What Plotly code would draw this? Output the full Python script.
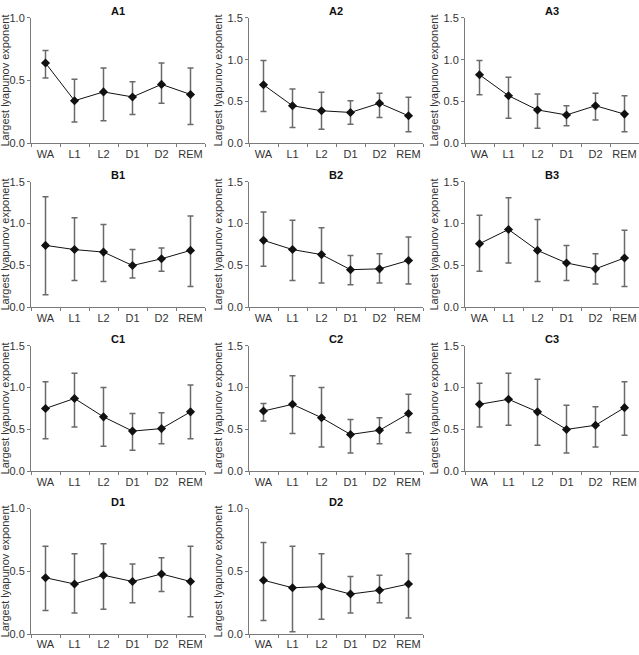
import plotly.graph_objects as go

stages = ["WA", "L1", "L2", "D1", "D2", "REM"]
panels = ["A1", "A2", "A3", "B1", "B2", "B3", "C1", "C2", "C3", "D1", "D2"]
y_max = [1.0, 1.5, 1.5, 1.5, 1.5, 1.5, 1.5, 1.5, 1.5, 1.0, 1.0]
y_ticks_1 = [0.0, 0.5, 1.0]
y_ticks_15 = [0.0, 0.5, 1.0, 1.5]

mean_A1 = [0.64, 0.34, 0.41, 0.37, 0.47, 0.39]
upper_A1 = [0.74, 0.51, 0.60, 0.49, 0.64, 0.60]
lower_A1 = [0.52, 0.17, 0.18, 0.23, 0.32, 0.15]

mean_A2 = [0.70, 0.45, 0.39, 0.37, 0.48, 0.33]
upper_A2 = [0.99, 0.65, 0.61, 0.51, 0.60, 0.55]
lower_A2 = [0.38, 0.19, 0.17, 0.23, 0.31, 0.14]

mean_A3 = [0.82, 0.57, 0.40, 0.34, 0.45, 0.35]
upper_A3 = [0.99, 0.79, 0.59, 0.45, 0.60, 0.57]
lower_A3 = [0.58, 0.30, 0.18, 0.21, 0.28, 0.14]

mean_B1 = [0.74, 0.69, 0.66, 0.50, 0.58, 0.68]
upper_B1 = [1.32, 1.07, 0.99, 0.69, 0.71, 1.09]
lower_B1 = [0.15, 0.32, 0.31, 0.35, 0.43, 0.25]

mean_B2 = [0.80, 0.69, 0.63, 0.45, 0.46, 0.56]
upper_B2 = [1.14, 1.04, 0.95, 0.62, 0.64, 0.84]
lower_B2 = [0.49, 0.32, 0.29, 0.27, 0.29, 0.28]

mean_B3 = [0.76, 0.93, 0.68, 0.53, 0.46, 0.59]
upper_B3 = [1.10, 1.31, 1.05, 0.74, 0.64, 0.92]
lower_B3 = [0.43, 0.53, 0.31, 0.32, 0.28, 0.25]

mean_C1 = [0.75, 0.87, 0.65, 0.48, 0.51, 0.71]
upper_C1 = [1.07, 1.17, 1.00, 0.69, 0.70, 1.03]
lower_C1 = [0.39, 0.53, 0.30, 0.25, 0.33, 0.39]

mean_C2 = [0.72, 0.80, 0.64, 0.44, 0.49, 0.69]
upper_C2 = [0.81, 1.14, 1.00, 0.62, 0.64, 0.92]
lower_C2 = [0.60, 0.45, 0.29, 0.22, 0.33, 0.46]

mean_C3 = [0.80, 0.86, 0.71, 0.50, 0.55, 0.76]
upper_C3 = [1.05, 1.17, 1.10, 0.79, 0.77, 1.07]
lower_C3 = [0.53, 0.55, 0.31, 0.22, 0.29, 0.43]

mean_D1 = [0.45, 0.40, 0.47, 0.42, 0.48, 0.42]
upper_D1 = [0.70, 0.64, 0.72, 0.56, 0.61, 0.70]
lower_D1 = [0.19, 0.17, 0.20, 0.25, 0.34, 0.14]

mean_D2 = [0.43, 0.37, 0.38, 0.32, 0.35, 0.40]
upper_D2 = [0.73, 0.70, 0.64, 0.46, 0.47, 0.64]
lower_D2 = [0.11, 0.02, 0.12, 0.17, 0.25, 0.13]

means = [mean_A1, mean_A2, mean_A3, mean_B1, mean_B2, mean_B3,
         mean_C1, mean_C2, mean_C3, mean_D1, mean_D2]
uppers = [upper_A1, upper_A2, upper_A3, upper_B1, upper_B2, upper_B3,
          upper_C1, upper_C2, upper_C3, upper_D1, upper_D2]
lowers = [lower_A1, lower_A2, lower_A3, lower_B1, lower_B2, lower_B3,
          lower_C1, lower_C2, lower_C3, lower_D1, lower_D2]

W, H = 639, 655
col_left = [31, 249, 465]
plot_w = 174
row_top = [12, 179, 346, 512]
plot_h = 128
ytitle_x = [5, 218, 434]

FONT = "Liberation Sans, Arial, sans-serif"
fig = go.Figure()
layout = dict(
    width=W, height=H,
    margin=dict(l=0, r=0, t=0, b=0),
    plot_bgcolor="white", paper_bgcolor="white",
    showlegend=False,
    font=dict(family=FONT, size=11, color="#333333"),
)
annotations = []

for i, name in enumerate(panels):
    r, c = divmod(i, 3)
    idx = "" if i == 0 else str(i + 1)
    m = means[i]
    up = [u - v for u, v in zip(uppers[i], m)]
    dn = [v - l for l, v in zip(lowers[i], m)]
    fig.add_trace(go.Scatter(
        x=stages, y=m, mode="lines+markers",
        line=dict(color="#111111", width=1),
        marker=dict(symbol="diamond", size=7, color="#111111"),
        error_y=dict(type="data", symmetric=False, array=up, arrayminus=dn,
                     color="#6a6a6a", thickness=1.5, width=3),
        xaxis="x" + idx, yaxis="y" + idx,
    ))
    x0 = col_left[c] / W
    x1 = (col_left[c] + plot_w) / W
    ytop = 1 - row_top[r] / H
    ybot = 1 - (row_top[r] + plot_h) / H
    ticks = y_ticks_1 if y_max[i] == 1.0 else y_ticks_15
    layout["xaxis" + idx] = dict(
        domain=[x0, x1], anchor="y" + idx, type="category",
        categoryorder="array", categoryarray=stages,
        range=[-0.5, 5.5], tickson="boundaries", tickangle=0,
        showline=True, linecolor="#7a7a7a", linewidth=1,
        ticks="outside", ticklen=3, tickcolor="#7a7a7a",
        showgrid=False, zeroline=False,
        tickfont=dict(size=11, color="#333333", family=FONT),
    )
    layout["yaxis" + idx] = dict(
        domain=[ybot, ytop], anchor="x" + idx,
        range=[0, y_max[i]], tickvals=ticks, tickformat=".1f",
        showline=True, linecolor="#7a7a7a", linewidth=1,
        ticks="outside", ticklen=3, tickcolor="#7a7a7a",
        showgrid=False, zeroline=False,
        tickfont=dict(size=11, color="#333333", family=FONT),
    )
    annotations.append(dict(
        text="<b>" + name + "</b>", xref="paper", yref="paper",
        x=(x0 + x1) / 2, y=ytop + 7 / H, xanchor="center", yanchor="middle",
        showarrow=False, font=dict(size=11, color="#111111", family=FONT),
    ))
    annotations.append(dict(
        text="Largest lyapunov exponent", xref="paper", yref="paper",
        x=ytitle_x[c] / W, y=(ybot + ytop) / 2, xanchor="center", yanchor="middle",
        textangle=-90, showarrow=False,
        font=dict(size=11, color="#333333", family=FONT),
    ))

layout["annotations"] = annotations
fig.update_layout(**layout)
fig.write_html(
    "out.html",
    config={"displayModeBar": False},
    post_script="document.body.style.margin='0';document.body.style.overflow='hidden';",
)
